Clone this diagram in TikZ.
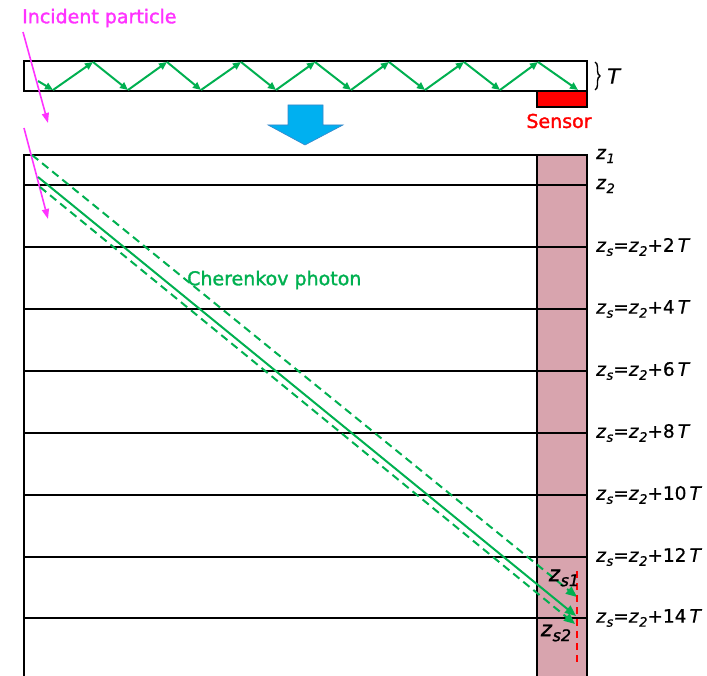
\documentclass[tikz,border=0pt]{standalone}
\usepackage{fontspec}
\setmainfont[FakeBold=1.6]{DejaVu Sans}
\newfontfamily\labfont[FakeBold=0.6]{DejaVu Sans}
\newfontfamily\boldlab[FakeBold=1.4]{DejaVu Sans}
\usetikzlibrary{arrows.meta,decorations.pathreplacing}
\definecolor{cgreen}{HTML}{00B050}
\definecolor{cmag}{HTML}{FF33FF}
\definecolor{cpink}{HTML}{D8A4AE}
\definecolor{cblue}{HTML}{00B0F0}
\definecolor{cblueedge}{HTML}{3A86C8}
\newcommand\zsub[1]{\textit{z}\kern0.3pt\raisebox{-4pt}{\fontsize{13}{13}\selectfont\textit{#1}}}
\newcommand\zbig[1]{\textit{z}\kern0.3pt\raisebox{-5pt}{\fontsize{16}{16}\selectfont\textit{#1}}}
\begin{document}
\begin{tikzpicture}[x=1pt,y=-1pt,
  blk/.style={line width=2.2pt,draw=black},
  zig/.style={line width=2pt,draw=cgreen,-{Triangle[length=8pt,width=7pt]}},
  ray/.style={line width=2pt,draw=cgreen,-{Triangle[length=11pt,width=9pt]}},
  dray/.style={ray,dash pattern=on 8pt off 5pt},
  part/.style={line width=1.6pt,draw=cmag,-{Triangle[length=10pt,width=7pt]}},
  lab/.style={anchor=west,inner sep=0pt,font=\labfont\fontsize{18.5}{18.5}\selectfont},
  blab/.style={anchor=center,inner sep=0pt,font=\boldlab\fontsize{21}{21}\selectfont},
  ttl/.style={inner sep=0pt,font=\fontsize{19}{19}\selectfont}]
\useasboundingbox (0,0) rectangle (707,676);
\clip (0,0) rectangle (707,676);
% top bar
\draw[blk] (24,61) rectangle (587,91);
\draw[blk,fill=red,line width=1.6pt] (537,91) rectangle (587,107);
\node[ttl,text=red] (sensor) at (559,121) {Sensor};
\draw[line width=1.4pt,decorate,decoration={brace,amplitude=5pt}] (595,62) -- (595,90);
\node[lab,font=\labfont\itshape\fontsize{21}{21}\selectfont] (Tlab) at (607,76) {T};
% zigzag
\coordinate (p0) at (38,81);
\foreach \i/\x/\y in {1/53/90,2/93/62,3/128/90,4/167/62,5/201/90,6/241/62,7/276/90,8/315/62,9/351/90,10/389/62,11/425/90,12/464/62,13/500/90,14/538/62,15/578/90}{
  \coordinate (p\i) at (\x,\y);
}
\foreach \i [evaluate=\i as \j using int(\i-1)] in {1,...,15}{
  \draw[zig] (p\j) -- (p\i);
}
% blue arrow
\filldraw[fill=cblue,draw=cblueedge,line width=0.6pt] (288,105) -- (323,105) -- (323,125) -- (343,125) -- (305,145) -- (268,125) -- (288,125) -- cycle;
% main box
\fill[cpink] (537,155) rectangle (587,690);
\foreach \y in {155,185,247,309,371,433,495,557,618}{
  \draw[blk] (24,\y) -- (587,\y);
}
\draw[blk] (24,154) -- (24,690);
\draw[blk] (537,155) -- (537,690);
\draw[blk] (587,154) -- (587,690);
% labels
\node[lab] (z1) at (596,156) {\zsub{1}};
\node[lab] (z2) at (596,186) {\zsub{2}};
\foreach \y/\n in {247/2,309/4,371/6,433/8,495/10,557/12,618/14}{
  \node[lab] at (596,\y) {\zsub{s}=\zsub{2}+\n\,\textit{T}};
}
% incident particle
\node[ttl,text=cmag,anchor=west] (inc) at (22,18) {Incident particle};
\coordinate (a1) at (23,32); \coordinate (a2) at (48,123);
\coordinate (b1) at (24,128); \coordinate (b2) at (48,219);
\draw[part] (a1) -- (a2);
\draw[part] (b1) -- (b2);
% cherenkov rays
\coordinate (u1) at (32,155); \coordinate (u2) at (577,597);
\coordinate (s1) at (38,177); \coordinate (s2) at (576,616);
\coordinate (l1) at (40,187); \coordinate (l2) at (575,624);
\draw[dray] (u1) -- (u2);
\draw[ray] (s1) -- (s2);
\draw[dray] (l1) -- (l2);
\node[ttl,text=cgreen,anchor=west] (cher) at (187,280) {Cherenkov photon};
% sensor plane
\draw[red,line width=1.6pt,dash pattern=on 7pt off 5pt] (577,571) -- (577,663);
\node[blab] (zs1) at (564,578) {\zbig{s1}};
\node[blab] (zs2) at (556,633) {\zbig{s2}};
\end{tikzpicture}
\end{document}
